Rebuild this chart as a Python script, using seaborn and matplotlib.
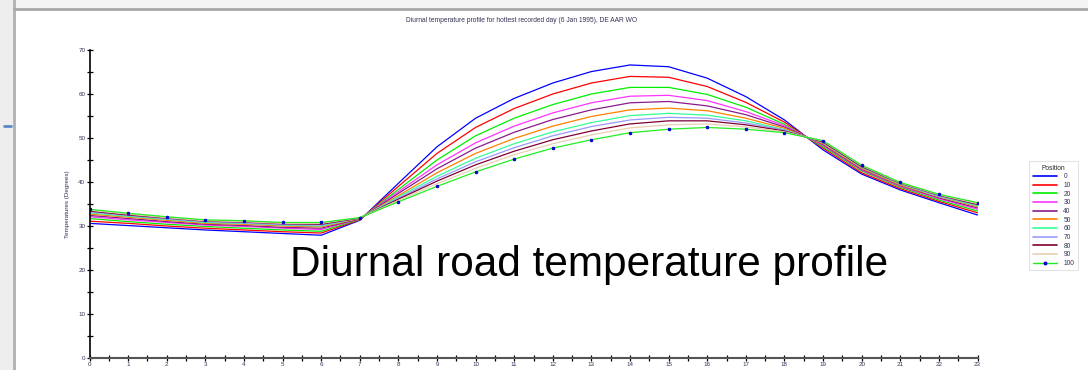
import matplotlib
matplotlib.use("Agg")
import matplotlib.pyplot as plt
import seaborn as sns
import numpy as np
import pandas as pd
from matplotlib.lines import Line2D
from matplotlib.patches import Rectangle

hours = list(range(24))
positions = ["0", "10", "20", "30", "40", "50", "60", "70", "80", "90", "100"]

p0 = [30.6, 30.1, 29.6, 29.1, 28.7, 28.3, 27.9, 31.3, 39.7, 48.0, 54.5, 59.0,
      62.5, 65.1, 66.6, 66.2, 63.6, 59.4, 54.1, 47.3, 41.8, 38.2, 35.3, 32.5]
p10 = [31.1, 30.6, 30.0, 29.5, 29.1, 28.7, 28.4, 31.4, 39.0, 46.5, 52.4, 56.7,
       60.0, 62.5, 64.0, 63.8, 61.7, 58.1, 53.6, 47.7, 42.1, 38.5, 35.6, 33.0]
p20 = [31.7, 31.0, 30.4, 29.9, 29.5, 29.1, 28.8, 31.5, 38.3, 45.0, 50.5, 54.5,
       57.6, 60.0, 61.5, 61.5, 59.9, 57.0, 53.1, 48.0, 42.5, 38.8, 35.9, 33.4]
p30 = [32.1, 31.4, 30.8, 30.2, 29.9, 29.5, 29.2, 31.6, 37.8, 43.9, 48.9, 52.7,
       55.7, 58.0, 59.5, 59.7, 58.5, 56.0, 52.8, 48.3, 42.7, 39.0, 36.2, 33.8]
p40 = [32.4, 31.7, 31.0, 30.4, 30.1, 29.7, 29.5, 31.6, 37.4, 43.0, 47.7, 51.3,
       54.2, 56.4, 58.0, 58.3, 57.3, 55.3, 52.5, 48.5, 42.9, 39.2, 36.4, 34.1]
p50 = [32.7, 32.0, 31.3, 30.6, 30.4, 30.0, 29.8, 31.7, 36.9, 42.1, 46.5, 49.9,
       52.7, 54.9, 56.4, 56.8, 56.2, 54.5, 52.2, 48.7, 43.1, 39.3, 36.6, 34.4]
p60 = [33.0, 32.2, 31.5, 30.8, 30.6, 30.2, 30.0, 31.8, 36.6, 41.3, 45.4, 48.7,
       51.4, 53.5, 55.1, 55.6, 55.2, 53.9, 51.9, 48.9, 43.3, 39.5, 36.7, 34.6]
p70 = [33.2, 32.4, 31.6, 31.0, 30.7, 30.3, 30.2, 31.8, 36.3, 40.7, 44.6, 47.8,
       50.5, 52.6, 54.1, 54.7, 54.5, 53.4, 51.8, 49.0, 43.4, 39.6, 36.8, 34.8]
p80 = [33.4, 32.5, 31.8, 31.1, 30.9, 30.5, 30.4, 31.8, 36.1, 40.2, 43.9, 47.0,
       49.6, 51.6, 53.2, 53.9, 53.9, 53.0, 51.6, 49.1, 43.5, 39.7, 37.0, 34.9]
p90 = [33.6, 32.7, 31.9, 31.2, 31.0, 30.6, 30.6, 31.9, 35.8, 39.6, 43.1, 46.2,
       48.7, 50.7, 52.3, 53.0, 53.2, 52.5, 51.4, 49.3, 43.7, 39.8, 37.1, 35.1]
p100 = [33.8, 32.9, 32.1, 31.4, 31.2, 30.8, 30.8, 31.9, 35.5, 39.0, 42.3, 45.2,
        47.7, 49.6, 51.2, 52.0, 52.4, 52.0, 51.2, 49.4, 43.8, 39.9, 37.2, 35.3]

series = [p0, p10, p20, p30, p40, p50, p60, p70, p80, p90, p100]
colors = ["#0000ff", "#ff0000", "#00ee00", "#ff33ff", "#8b1a8b", "#ff8000",
          "#33ff99", "#9999ff", "#800033", "#e8cfb0", "#22ee22"]

title = "Diurnal temperature profile for hottest recorded day (6 Jan 1995), DE AAR WO"
ylabel = "Temperatures (Degrees)"
overlay = "Diurnal road temperature profile"

df = pd.DataFrame({
    "hour": np.tile(hours, len(positions)),
    "temp": np.concatenate([np.array(s) for s in series]),
    "pos": np.repeat(positions, len(hours)),
})

sns.set_theme(style="white")
plt.rcParams["font.family"] = ["Liberation Sans", "DejaVu Sans"]

fig = plt.figure(figsize=(10.88, 3.70), dpi=100)
fig.patch.set_facecolor("white")

# slide-like decorations
fig.add_artist(Rectangle((0, 0), 13 / 1088, 1, transform=fig.transFigure,
                         facecolor="#eeeeee", edgecolor="none", zorder=0))
fig.add_artist(Line2D([13.5 / 1088, 13.5 / 1088], [0, 1], transform=fig.transFigure,
                      color="#b0b0b0", lw=2, zorder=1))
fig.add_artist(Rectangle((14 / 1088, 1 - 8 / 370), 1, 8 / 370, transform=fig.transFigure,
                         facecolor="#f4f4f4", edgecolor="none", zorder=0))
fig.add_artist(Line2D([14 / 1088, 1], [1 - 9 / 370, 1 - 9 / 370], transform=fig.transFigure,
                      color="#a8a8a8", lw=2, zorder=1))
fig.add_artist(Line2D([4 / 1088, 11 / 1088], [1 - 126 / 370, 1 - 126 / 370],
                      transform=fig.transFigure, color="#5b8ac8", lw=2, zorder=2))

ax = fig.add_axes([89.5 / 1088, 12 / 370, 888 / 1088, 308 / 370])
ax.set_facecolor("none")

sns.lineplot(data=df[df["pos"] != "100"], x="hour", y="temp", hue="pos",
             hue_order=positions[:-1], palette=colors[:-1], lw=0.9, ax=ax,
             legend=False)
sns.lineplot(x=hours, y=p100, color=colors[-1], lw=0.9, marker="o",
             markersize=1.8, markerfacecolor="#0000cc", markeredgecolor="#0000cc",
             ax=ax, legend=False)

ax.set_xlim(0, 23)
ax.set_ylim(0, 70)
ax.set_xticks(range(0, 24))
ax.set_xticks(np.arange(0.5, 23, 1.0), minor=True)
ax.set_yticks(range(0, 71, 10))
ax.set_yticks(range(5, 70, 10), minor=True)
for s in ["top", "right"]:
    ax.spines[s].set_visible(False)
ax.spines["left"].set_color("black")
ax.spines["left"].set_linewidth(1.2)
ax.spines["bottom"].set_color("#555555")
ax.spines["bottom"].set_linewidth(1.5)
ax.tick_params(axis="both", which="both", direction="inout", length=4, width=0.9,
               color="black", labelsize=4.5, labelcolor="#333355", pad=1,
               bottom=True, left=True)
ax.set_xlabel("")
ax.set_ylabel(ylabel, fontsize=4.5, color="#333355", labelpad=6)

fig.text(522 / 1088, 1 - 20 / 370, title, ha="center", va="center",
         fontsize=4.8, color="#333355")

handles = []
for i, (lab, c) in enumerate(zip(positions, colors)):
    if lab == "100":
        handles.append(Line2D([], [], color=c, lw=1.0, marker="o", markersize=1.8,
                              markerfacecolor="#0000cc", markeredgecolor="#0000cc",
                              label=lab))
    else:
        handles.append(Line2D([], [], color=c, lw=1.2, label=lab))
leg = fig.legend(handles=handles, title="Position", loc="upper left",
                 bbox_to_anchor=(1028 / 1088, 1 - 160 / 370), fontsize=4.8,
                 title_fontsize=4.8, frameon=True, fancybox=False,
                 handlelength=3.6, handletextpad=1.0, labelspacing=0.25,
                 borderpad=0.5, borderaxespad=0.2)
leg.get_frame().set_edgecolor("#dddddd")
leg.get_frame().set_linewidth(0.8)
for t in leg.get_texts():
    t.set_color("#333355")

fig.text(589 / 1088, 1 - 265 / 370, overlay, ha="center", va="center",
         fontsize=30.5, color="black")

fig.savefig("out.png", dpi=100)
